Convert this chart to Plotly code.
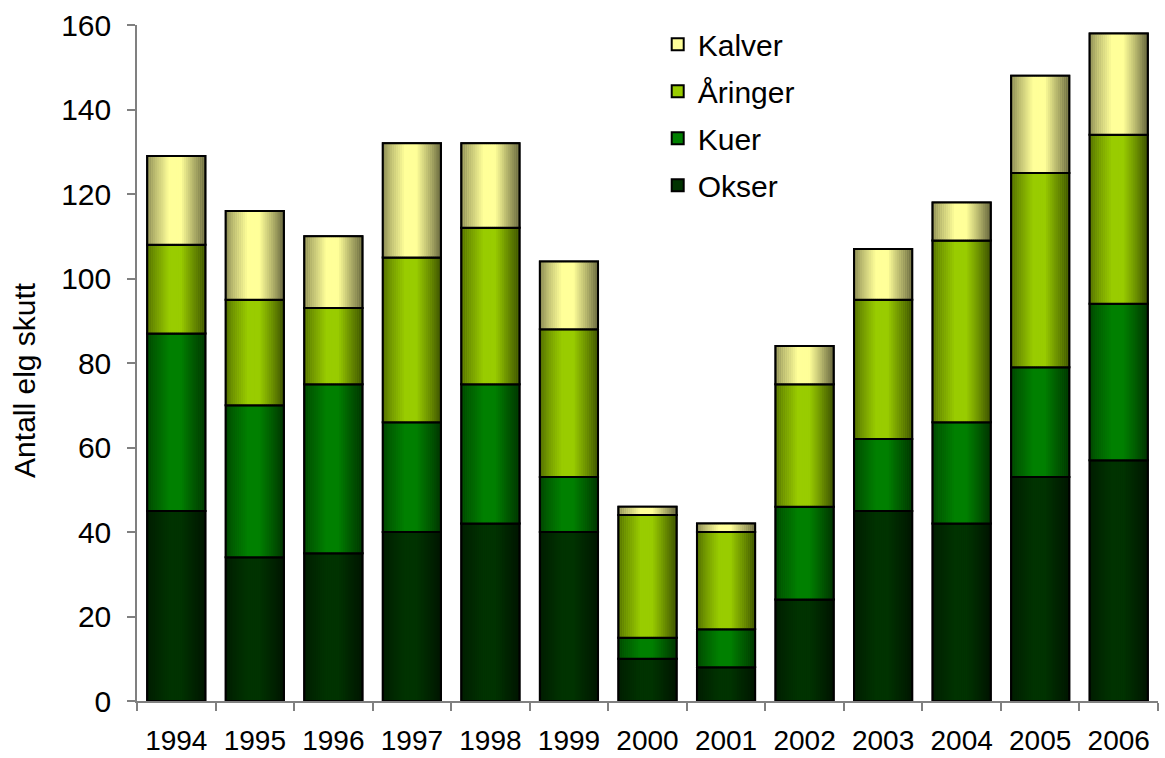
import numpy as np
import plotly.graph_objects as go

years = [str(y) for y in range(1994, 2007)]

okser = [45, 34, 35, 40, 42, 40, 10, 8, 24, 45, 42, 53, 57]
kuer = [42, 36, 40, 26, 33, 13, 5, 9, 22, 17, 24, 26, 37]
aringer = [21, 25, 18, 39, 37, 35, 29, 23, 29, 33, 43, 46, 40]
kalver = [21, 21, 17, 27, 20, 16, 2, 2, 9, 12, 9, 23, 24]

series_names = ["Okser", "Kuer", "Åringer", "Kalver"]
series_values = [okser, kuer, aringer, kalver]
series_colors = [(0, 51, 0), (0, 128, 0), (153, 204, 0), (255, 255, 153)]
legend_ranks = [4, 3, 2, 1]

FONT = "Liberation Sans, Arial, sans-serif"
FS = 30
BAR_W = 0.74
N_SLICES = 30


def shade(t):
    # brightness across a bar: darker at both edges, brightest left of centre
    pts_t = [0.0, 0.12, 0.38, 0.58, 0.85, 1.0]
    pts_f = [0.55, 0.72, 1.0, 1.0, 0.62, 0.4]
    return float(np.interp(t, pts_t, pts_f))


def rgb(c, f=1.0):
    return "rgb({},{},{})".format(*[int(round(v * f)) for v in c])


fig = go.Figure()

base = np.zeros(len(years))
for name, vals, col, rank in zip(series_names, series_values, series_colors, legend_ranks):
    vals = np.array(vals, dtype=float)
    # solid segment that carries the legend entry
    fig.add_trace(go.Bar(
        x=years, y=vals, base=base, width=BAR_W, offset=-BAR_W / 2,
        name=name, legendgroup=name, legendrank=rank,
        marker=dict(color=rgb(col), line=dict(color="black", width=2)),
        hoverinfo="skip",
    ))
    # horizontal shading built from thin slices
    sw = BAR_W / N_SLICES
    for k in range(N_SLICES):
        t = (k + 0.5) / N_SLICES
        fig.add_trace(go.Bar(
            x=years, y=vals, base=base, width=sw * 1.15,
            offset=-BAR_W / 2 + k * sw,
            marker=dict(color=rgb(col, shade(t)), line=dict(width=0)),
            showlegend=False, legendgroup=name, hoverinfo="skip",
        ))
    # outline on top
    fig.add_trace(go.Bar(
        x=years, y=vals, base=base, width=BAR_W, offset=-BAR_W / 2,
        marker=dict(color="rgba(0,0,0,0)", line=dict(color="black", width=2)),
        showlegend=False, legendgroup=name, hoverinfo="skip",
    ))
    base = base + vals

fig.update_layout(
    width=1165, height=758,
    margin=dict(l=137, r=7, t=25, b=57),
    barmode="overlay",
    plot_bgcolor="white", paper_bgcolor="white",
    font=dict(family=FONT, size=FS, color="black"),
    legend=dict(
        x=0.51, y=1.01, xanchor="left", yanchor="top",
        traceorder="grouped", tracegroupgap=5,
        font=dict(family=FONT, size=FS, color="black"),
        bgcolor="rgba(0,0,0,0)", itemwidth=30,
    ),
    showlegend=True,
    annotations=[dict(
        text="Antall elg skutt", textangle=-90,
        xref="paper", yref="paper", x=0, y=0.475,
        xanchor="center", yanchor="middle", xshift=-112, showarrow=False,
        font=dict(family=FONT, size=FS, color="black"),
    )],
)

fig.update_xaxes(
    type="category", tickson="boundaries", automargin=False,
    showline=True, linecolor="#808080", linewidth=1.5,
    ticks="outside", ticklen=8, tickcolor="#808080", tickwidth=1.5,
    ticklabelstandoff=14,
    tickfont=dict(family=FONT, size=FS - 2, color="black"),
    showgrid=False, zeroline=False,
    range=[-0.5, 12.5],
)
fig.update_yaxes(
    range=[0, 160], tickvals=list(range(0, 161, 20)), automargin=False,
    showline=True, linecolor="#808080", linewidth=1.5,
    ticks="outside", ticklen=8, tickcolor="#808080", tickwidth=1.5,
    ticklabelstandoff=10,
    tickfont=dict(family=FONT, size=FS, color="black"),
    showgrid=False, zeroline=False,
)

fig.write_html("out.html")
